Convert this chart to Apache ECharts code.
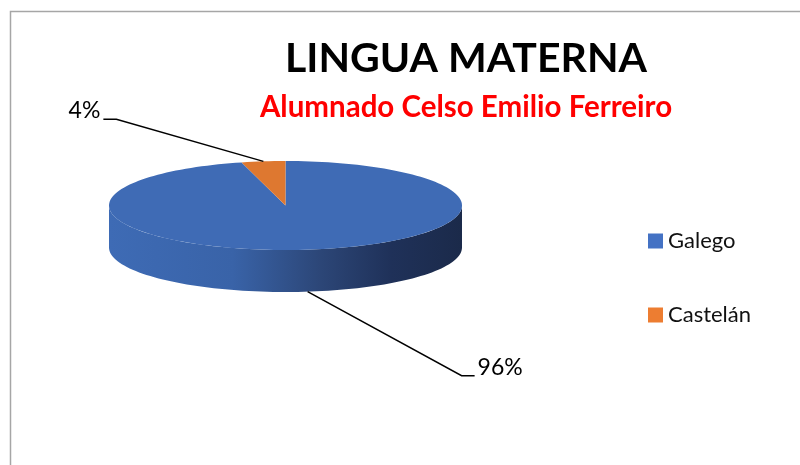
<!DOCTYPE html>
<html>
<head>
<meta charset="utf-8">
<script src="https://cdn.jsdelivr.net/npm/echarts@6/dist/echarts.min.js"></script>
<style>
  html, body { margin: 0; padding: 0; background: #fff; }
  #main { width: 800px; height: 465px; }
</style>
</head>
<body>
<div id="main"></div>
<script>
// data
const categories = ['Galego', 'Castelán'];
const values = [96, 4];

// styles / layout
const FONT = 'Lato';
const legendColors = ['#4472C4', '#ED7D31'];
const topColors = ['#3F6BB5', '#DE7830'];
const cx = 285.5, cy = 205.5, rx = 176.5, ry = 44.5, depth = 42;
const labelOffsets = [[154, 84], [-147, -42]];

const total = values.reduce((a, b) => a + b, 0);

const sideFill = new echarts.graphic.LinearGradient(cx - rx, 0, cx + rx, 0, [
    { offset: 0, color: '#3E6BB5' },
    { offset: 0.35, color: '#3963A8' },
    { offset: 0.6, color: '#2C4677' },
    { offset: 0.8, color: '#1F3159' },
    { offset: 1, color: '#1B2A4A' }
], true);

// angles in degrees, clockwise from 12 o'clock
function arc(a0, a1, dy) {
    const pts = [];
    const n = Math.max(2, Math.ceil(Math.abs(a1 - a0) / 2));
    for (let i = 0; i <= n; i++) {
        const a = (a0 + (a1 - a0) * i / n) * Math.PI / 180;
        pts.push([cx + rx * Math.sin(a), cy - ry * Math.cos(a) + dy]);
    }
    return pts;
}

function renderSlice(idx) {
    return function (params, api) {
        let start = 0;
        for (let k = 0; k < idx; k++) start += values[k] / total * 360;
        const end = start + values[idx] / total * 360;
        const children = [];

        // visible front wall
        const s = Math.max(start, 90), e = Math.min(end, 270);
        if (s < e) {
            children.push({
                type: 'polygon',
                shape: { points: arc(s, e, 0).concat(arc(e, s, depth)) },
                style: { fill: sideFill }
            });
        }
        // top face
        children.push({
            type: 'polygon',
            shape: { points: [[cx, cy]].concat(arc(start, end, 0)) },
            style: { fill: topColors[idx] }
        });

        // label with leader line
        const mid = (start + end) / 2;
        const front = mid > 90 && mid < 270;
        const rad = mid * Math.PI / 180;
        const ax = cx + rx * Math.sin(rad);
        const ay = cy - ry * Math.cos(rad) + (front ? depth : 0);
        const off = labelOffsets[idx];
        const ex = ax + off[0], ey = ay + off[1];
        const dir = off[0] > 0 ? 1 : -1;
        children.push({
            type: 'polyline',
            shape: { points: [[ax, ay], [ex, ey], [ex + dir * 13, ey]] },
            style: { stroke: '#000', lineWidth: 1.5, fill: null }
        });
        children.push({
            type: 'text',
            x: ex + dir * 16,
            y: ey + 3,
            style: {
                text: Math.round(values[idx] / total * 100) + '%',
                align: dir > 0 ? 'left' : 'right',
                verticalAlign: 'bottom',
                fontFamily: FONT,
                fontSize: 23,
                fill: '#000'
            }
        });
        return { type: 'group', children: children };
    };
}

const chart = echarts.init(document.getElementById('main'));
chart.setOption({
    animation: false,
    backgroundColor: '#fff',
    title: {
        text: 'LINGUA MATERNA',
        subtext: 'Alumnado Celso Emilio Ferreiro',
        left: 461,
        textAlign: 'center',
        top: 33,
        itemGap: 13,
        textStyle: { fontFamily: FONT, fontSize: 41, fontWeight: 'bold', color: '#000' },
        subtextStyle: { fontFamily: FONT, fontSize: 29.5, fontWeight: 'bold', color: '#FF0000' }
    },
    legend: {
        data: categories,
        orient: 'vertical',
        left: 643,
        top: 225,
        icon: 'rect',
        itemWidth: 15,
        itemHeight: 15,
        itemGap: 52,
        selectedMode: false,
        textStyle: { fontFamily: FONT, fontSize: 22, color: '#111' }
    },
    graphic: [{
        type: 'rect',
        silent: true,
        shape: { x: 10.5, y: 11.5, width: 800, height: 470 },
        style: { fill: null, stroke: '#A6A6A6', lineWidth: 1.5 }
    }],
    series: categories.map((name, i) => ({
        type: 'custom',
        name: name,
        coordinateSystem: 'none',
        silent: true,
        itemStyle: { color: legendColors[i] },
        data: [values[i]],
        renderItem: renderSlice(i)
    }))
});
</script>
</body>
</html>
